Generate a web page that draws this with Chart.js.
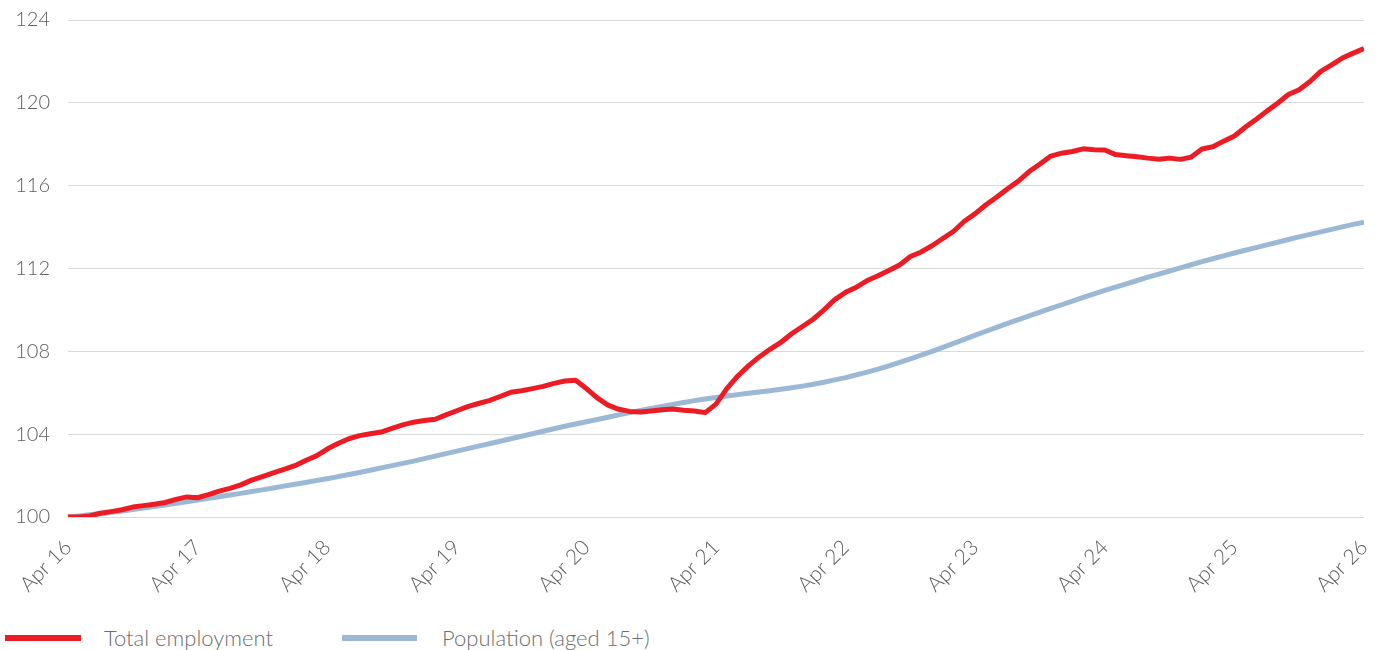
<!DOCTYPE html>
<html>
<head>
<meta charset="utf-8">
<script src="https://cdn.jsdelivr.net/npm/chart.js@4.4.1/dist/chart.umd.min.js"></script>
<style>
  html, body { margin: 0; padding: 0; background: #ffffff; }
  body { width: 1382px; height: 650px; position: relative; overflow: hidden; font-family: 'Lato', 'Open Sans', sans-serif; }
  #wrap { position: absolute; left: 0; top: 0; width: 1382px; height: 610px; }
  .lg-line { position: absolute; height: 6px; }
  .lg-text { position: absolute; font-size: 22px; font-weight: 300; color: #6e6e6e; line-height: 24px; white-space: nowrap; }
</style>
</head>
<body>
<div id="wrap"><canvas id="c" width="1382" height="610"></canvas></div>
<div class="lg-line" id="lgl0" style="left:5px; top:635px; width:76px;"></div>
<div class="lg-text" id="lgt0" style="left:104px; top:626px;"></div>
<div class="lg-line" id="lgl1" style="left:342px; top:635px; width:75px;"></div>
<div class="lg-text" id="lgt1" style="left:442px; top:626px;"></div>
<script>
// ---- Data (monthly index, Apr 2016 = 100) ----
const tickLabels = ['Apr 16','Apr 17','Apr 18','Apr 19','Apr 20','Apr 21','Apr 22','Apr 23','Apr 24','Apr 25','Apr 26'];
const seriesNames = ['Total employment', 'Population (aged 15+)'];

const totalEmployment = [
  100.00,100.00,100.05,100.18,100.26,100.35,100.48,100.55,100.62,100.70,100.85,100.97,
  100.93,101.08,101.25,101.38,101.55,101.78,101.95,102.13,102.30,102.48,102.73,102.95,
  103.28,103.55,103.78,103.93,104.02,104.10,104.28,104.45,104.58,104.66,104.72,104.93,
  105.13,105.33,105.48,105.62,105.82,106.02,106.10,106.20,106.31,106.45,106.57,106.60,
  106.20,105.75,105.40,105.20,105.10,105.07,105.12,105.18,105.22,105.15,105.12,105.04,
  105.45,106.20,106.80,107.30,107.73,108.10,108.43,108.85,109.20,109.55,110.00,110.50,
  110.85,111.10,111.42,111.65,111.90,112.17,112.58,112.80,113.10,113.45,113.80,114.28,
  114.65,115.08,115.45,115.85,116.22,116.68,117.05,117.43,117.57,117.65,117.78,117.73,
  117.72,117.50,117.45,117.40,117.33,117.28,117.33,117.27,117.38,117.77,117.88,118.15,
  118.40,118.82,119.20,119.60,119.98,120.40,120.63,121.03,121.52,121.83,122.16,122.40,
  122.62
];

const population = [
  100.00,100.05,100.11,100.17,100.23,100.29,100.36,100.43,100.50,100.58,100.66,100.74,
  100.82,100.90,100.98,101.06,101.14,101.23,101.31,101.40,101.49,101.58,101.67,101.76,
  101.85,101.95,102.05,102.15,102.26,102.37,102.48,102.59,102.70,102.82,102.94,103.06,
  103.18,103.30,103.42,103.54,103.66,103.78,103.90,104.02,104.14,104.26,104.38,104.49,
  104.60,104.71,104.82,104.93,105.04,105.14,105.24,105.34,105.44,105.53,105.62,105.70,
  105.77,105.84,105.91,105.98,106.04,106.10,106.17,106.24,106.32,106.41,106.51,106.62,
  106.73,106.86,107.00,107.14,107.30,107.47,107.64,107.82,108.00,108.19,108.38,108.58,
  108.78,108.97,109.16,109.35,109.53,109.71,109.89,110.07,110.25,110.43,110.60,110.77,
  110.94,111.10,111.26,111.42,111.58,111.73,111.88,112.03,112.18,112.33,112.47,112.61,
  112.75,112.88,113.01,113.14,113.27,113.40,113.53,113.65,113.77,113.89,114.01,114.13,
  114.24
];

const yTicks = [100, 104, 108, 112, 116, 120, 124];

// ---- Styling ----
const RED = '#ed1c24';
const BLUE = '#9bb9d5';
const TXT = '#5e5e5e';
const FONT = "'Lato', 'Open Sans', sans-serif";

document.getElementById('lgl0').style.background = RED;
document.getElementById('lgl1').style.background = BLUE;
document.getElementById('lgt0').textContent = seriesNames[0];
document.getElementById('lgt1').textContent = seriesNames[1];

const toPoints = arr => arr.map((v, i) => ({ x: i, y: v }));

new Chart(document.getElementById('c'), {
  type: 'line',
  data: {
    datasets: [
      { label: seriesNames[0], data: toPoints(totalEmployment), borderColor: RED, backgroundColor: RED,
        borderWidth: 5, pointRadius: 0, tension: 0, borderJoinStyle: 'round', borderCapStyle: 'butt', fill: false },
      { label: seriesNames[1], data: toPoints(population), borderColor: BLUE, backgroundColor: BLUE,
        borderWidth: 5, pointRadius: 0, tension: 0, borderJoinStyle: 'round', borderCapStyle: 'butt', fill: false }
    ]
  },
  options: {
    responsive: false,
    devicePixelRatio: 1,
    animation: false,
    events: [],
    layout: { padding: { left: 0, right: 18, top: 20, bottom: 0 } },
    plugins: { legend: { display: false }, tooltip: { enabled: false } },
    scales: {
      x: {
        type: 'linear',
        min: 0, max: 120,
        afterBuildTicks: s => { s.ticks = tickLabels.map((_, k) => ({ value: k * 12 })); },
        afterFit: s => {
          s.height = 93;
          s.paddingLeft = 0; s.paddingRight = 0; s.paddingTop = 0; s.paddingBottom = 0;
        },
        grid: { display: false, drawTicks: false },
        border: { display: false },
        ticks: {
          autoSkip: false, maxRotation: 45, minRotation: 45, padding: 18,
          color: TXT, font: { family: FONT, size: 21, weight: 300 },
          callback: v => tickLabels[Math.round(v / 12)]
        }
      },
      y: {
        min: 100, max: 124,
        afterBuildTicks: s => { s.ticks = yTicks.map(v => ({ value: v })); },
        afterFit: s => {
          s.width = 68;
          s.paddingTop = 0; s.paddingBottom = 0; s.paddingLeft = 0; s.paddingRight = 0;
        },
        grid: { color: '#d9d9d9', lineWidth: 1, drawTicks: false },
        border: { display: false },
        ticks: { padding: 18, color: TXT, font: { family: FONT, size: 20, weight: 300 } }
      }
    }
  }
});
</script>
</body>
</html>
